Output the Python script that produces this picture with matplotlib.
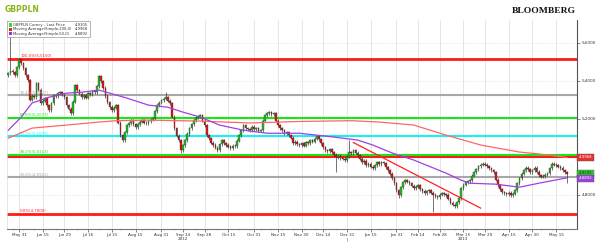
import numpy as np
import pandas as pd
import matplotlib
matplotlib.use("Agg")
import matplotlib.pyplot as plt
from matplotlib.patches import Rectangle
from matplotlib.transforms import blended_transform_factory

# Cierres diarios GBPPLN (aprox.)
closes = [
    5.440, 5.452, 5.446, 5.428, 5.470, 5.514, 5.492, 5.466, 5.430, 5.404,
    5.300, 5.322, 5.314, 5.388, 5.352, 5.283, 5.296, 5.309, 5.270, 5.246,
    5.282, 5.325, 5.318, 5.334, 5.340, 5.326, 5.314, 5.270, 5.252, 5.230,
    5.290, 5.377, 5.350, 5.332, 5.314, 5.325, 5.310, 5.335, 5.328, 5.344,
    5.340, 5.372, 5.425, 5.398, 5.362, 5.320, 5.288, 5.262, 5.246, 5.258,
    5.272, 5.180, 5.114, 5.088, 5.130, 5.167, 5.176, 5.193, 5.170, 5.156,
    5.172, 5.184, 5.193, 5.180, 5.177, 5.188, 5.196, 5.203, 5.240, 5.272,
    5.285, 5.298, 5.306, 5.314, 5.296, 5.283, 5.210, 5.151, 5.112, 5.088,
    5.035, 5.060, 5.088, 5.120, 5.151, 5.172, 5.193, 5.205, 5.212, 5.219,
    5.190, 5.167, 5.114, 5.098, 5.075, 5.062, 5.048, 5.035, 5.066, 5.088,
    5.070, 5.062, 5.052, 5.046, 5.058, 5.056, 5.085, 5.114, 5.140, 5.167,
    5.150, 5.145, 5.140, 5.158, 5.146, 5.151, 5.138, 5.140, 5.190, 5.219,
    5.228, 5.235, 5.224, 5.230, 5.190, 5.165, 5.151, 5.140, 5.124, 5.130,
    5.114, 5.100, 5.072, 5.080, 5.065, 5.062, 5.070, 5.058, 5.077, 5.072,
    5.088, 5.080, 5.096, 5.109, 5.092, 5.072, 5.050, 5.035, 5.030, 5.040,
    5.025, 5.012, 4.998, 5.006, 4.993, 4.990, 4.983, 5.000, 5.025, 5.018,
    5.035, 5.022, 5.009, 4.990, 4.972, 4.980, 4.956, 4.962, 4.948, 4.941,
    4.955, 4.972, 4.960, 4.972, 4.965, 4.945, 4.930, 4.912, 4.888, 4.860,
    4.825, 4.799, 4.840, 4.866, 4.877, 4.868, 4.861, 4.848, 4.835, 4.842,
    4.851, 4.830, 4.820, 4.809, 4.818, 4.825, 4.812, 4.799, 4.792, 4.788,
    4.800, 4.809, 4.803, 4.799, 4.780, 4.757, 4.748, 4.741, 4.760, 4.783,
    4.835, 4.852, 4.867, 4.872, 4.877, 4.900, 4.919, 4.935, 4.951, 4.958,
    4.962, 4.958, 4.951, 4.940, 4.930, 4.919, 4.880, 4.851, 4.830, 4.814,
    4.808, 4.804, 4.810, 4.799, 4.805, 4.825, 4.860, 4.888, 4.910, 4.930,
    4.941, 4.935, 4.919, 4.930, 4.941, 4.922, 4.904, 4.896, 4.899, 4.905,
    4.914, 4.940, 4.962, 4.958, 4.956, 4.948, 4.941, 4.930, 4.919, 4.9105,
]
primer_open = 5.430
# mechas largas (indice de dia -> valor)
maximos_extra = {1: 5.677, 73: 5.340, 158: 5.088}
minimos_extra = {80: 5.018, 152: 4.920, 181: 4.783, 197: 4.710, 207: 4.728, 259: 4.862}

# Medias moviles (fechas, valores)
ma200_fechas = ["2012-05-24", "2012-06-08", "2012-07-02", "2012-07-23", "2012-08-02",
                "2012-08-23", "2012-09-26", "2012-10-29", "2012-11-29", "2013-01-02",
                "2013-01-21", "2013-02-12", "2013-03-05", "2013-03-27", "2013-04-22",
                "2013-05-03", "2013-05-22"]
ma200_valores = [5.098, 5.151, 5.167, 5.183, 5.190, 5.193, 5.188, 5.178, 5.186, 5.190,
                 5.183, 5.167, 5.114, 5.062, 5.025, 5.015, 4.9968]
ma50_fechas = ["2012-05-24", "2012-06-01", "2012-06-08", "2012-06-20", "2012-07-02",
               "2012-07-11", "2012-07-23", "2012-07-30", "2012-08-09", "2012-08-23",
               "2012-09-05", "2012-09-14", "2012-09-26", "2012-10-09", "2012-10-24",
               "2012-11-08", "2012-11-29", "2012-12-21", "2013-01-07", "2013-01-16",
               "2013-01-29", "2013-02-12", "2013-03-05", "2013-03-14", "2013-03-20",
               "2013-04-05", "2013-04-22", "2013-05-03", "2013-05-22"]
ma50_valores = [5.140, 5.209, 5.283, 5.314, 5.335, 5.340, 5.351, 5.335, 5.309, 5.272,
                5.261, 5.235, 5.209, 5.167, 5.140, 5.124, 5.124, 5.104, 5.088, 5.062,
                5.020, 4.983, 4.914, 4.877, 4.861, 4.856, 4.840, 4.861, 4.8892]

# Linea de tendencia bajista
tendencia_fechas = ["2013-01-03", "2013-03-27"]
tendencia_valores = [5.075, 4.730]

# Niveles de Fibonacci
fib_etiquetas = ["100.0%(5,5150)", "76.4%(5,3227)", "61.8%(5,2037)", "50.0%(5,1075)",
                 "38.2%(5,0113)", "23.6%(4,8923)", "0.0%(4,7000)"]
fib_valores = [5.515, 5.3227, 5.2037, 5.1075, 5.0113, 4.8923, 4.700]
fib_colores = ["#ff1a1a", "#a8a8a8", "#19e619", "#19f0f0", "#19e619", "#a8a8a8", "#ff1a1a"]
soporte = 5.003

etiquetas_x = ["May 31", "Jun 15", "Jun 29", "Jul 16", "Jul 31", "Aug 15", "Aug 31",
               "Sep 14", "Sep 28", "Oct 15", "Oct 31", "Nov 15", "Nov 30", "Dec 14",
               "Dec 31", "Jan 15", "Jan 31", "Feb 14", "Feb 28", "Mar 15", "Mar 29",
               "Apr 15", "Apr 30", "May 15"]
fechas_x = ["2012-05-31", "2012-06-15", "2012-06-29", "2012-07-16", "2012-07-31",
            "2012-08-15", "2012-08-31", "2012-09-14", "2012-09-28", "2012-10-15",
            "2012-10-31", "2012-11-15", "2012-11-30", "2012-12-14", "2012-12-31",
            "2013-01-15", "2013-01-31", "2013-02-14", "2013-02-28", "2013-03-15",
            "2013-03-29", "2013-04-15", "2013-04-30", "2013-05-15"]

leyenda_textos = ["GBPPLN Curncy - Last Price", "Moving Average(Simple,200,0)",
                  "Moving Average(Simple,50,0)"]
leyenda_valores = ["4,9105", "4,9968", "4,8892"]

fechas = pd.bdate_range("2012-05-24", periods=len(closes))


def idx(lista):
    return fechas.searchsorted(pd.to_datetime(lista))


W, H = 600, 247
fig = plt.figure(figsize=(W / 100, H / 100), dpi=100)
fig.patch.set_facecolor("white")


def fx(px):
    return px / W


def fy(py):
    return 1 - py / H


ax = fig.add_axes([fx(7), fy(229), (577 - 7) / W, (229 - 20) / H])
ax.set_xlim(-0.6, 263.7)
ax.set_ylim(4.62, 5.72)

# velas
c = np.array(closes)
o = np.array([primer_open] + closes[:-1])
x = np.arange(len(c))
hi = np.maximum(o, c) + 0.008
lo = np.minimum(o, c) - 0.008
for k, v in maximos_extra.items():
    hi[k] = v
for k, v in minimos_extra.items():
    lo[k] = v
sube = c >= o
ax.vlines(x, lo, hi, color="#3a3a3a", lw=0.5, zorder=3)
altura = np.maximum(np.abs(c - o), 0.003)
ax.bar(x, altura, bottom=np.minimum(o, c), width=0.75,
       color=np.where(sube, "#1fc41f", "#e81414"), edgecolor="#2a2a2a", lw=0.25, zorder=4)

# niveles fibonacci
ax.axhline(soporte, color="#ff1a1a", lw=2.2, zorder=2)
for val, col, txt in zip(fib_valores, fib_colores, fib_etiquetas):
    lw = 2.0 if col == "#ff1a1a" else 1.5
    ax.axhline(val, color=col, lw=lw, zorder=2)
    ax.text(5.5, val + 0.004, txt, color=col, fontsize=2.8, va="bottom", ha="left", zorder=5)

# medias y tendencia
ax.plot(idx(ma200_fechas), ma200_valores, color="#ff6666", lw=0.9, zorder=5)
ax.plot(idx(ma50_fechas), ma50_valores, color="#a040e0", lw=0.9, zorder=5)
ax.plot(idx(tendencia_fechas), tendencia_valores, color="#ff2020", lw=0.9, zorder=5)

# ejes
pos_x = idx(fechas_x)
ax.set_xticks(pos_x)
ax.set_xticklabels(etiquetas_x, fontsize=3, color="#333333")
lunes = [i for i, d in enumerate(fechas) if d.weekday() == 0]
ax.set_xticks(lunes, minor=True)
ax.tick_params(axis="x", which="major", length=2, width=0.5, pad=1, color="#555555")
ax.tick_params(axis="x", which="minor", length=1, width=0.4, color="#777777")

ax.yaxis.tick_right()
yt = [4.8, 5.0, 5.2, 5.4, 5.6]
ax.set_yticks(yt)
# 5,0000 queda tapado por la etiqueta roja
ax.set_yticklabels(["" if v == 5.0 else f"{v:.4f}".replace(".", ",") for v in yt],
                   fontsize=3, color="#333333")
ax.tick_params(axis="y", length=2, width=0.5, pad=1.5, color="#555555")

ax.grid(axis="x", color="#e2e2e2", lw=0.6, zorder=0)
ax.grid(axis="y", color="#d8d8d8", lw=0.5, ls=":", zorder=0)
ax.set_axisbelow(True)
ax.spines["left"].set_color("#dddddd")
ax.spines["left"].set_linewidth(0.5)
ax.spines["top"].set_visible(False)
ax.spines["right"].set_color("#555555")
ax.spines["right"].set_linewidth(0.8)
ax.spines["bottom"].set_color("#777777")
ax.spines["bottom"].set_linewidth(0.8)

# anios
tr_x = blended_transform_factory(ax.transData, ax.transAxes)
y_anio = -(239 - 229) / (229 - 20)
for fecha, txt in [("2012-09-14", "2012"), ("2013-03-15", "2013"), ("2012-12-31", "|")]:
    ax.text(idx([fecha])[0], y_anio, txt, transform=tr_x,
            fontsize=3, ha="center", va="center", color="#333333")

# etiquetas a la derecha
tr = blended_transform_factory(ax.transAxes, ax.transData)
for val, txt, fc, tc in [(4.9968, "4,9968", "#e83030", "white"),
                         (4.9135, "4,9105", "#2ec82e", "#0a3a0a"),
                         (4.8862, "4,8892", "#a040e0", "white")]:
    ax.text(1.003, val, txt, transform=tr, fontsize=2.8, color=tc, ha="left", va="center",
            bbox=dict(boxstyle="square,pad=0.35", fc=fc, ec="#555555", lw=0.3), zorder=10, clip_on=False)

# leyenda
fig.patches.append(Rectangle((fx(7), fy(37)), 83 / W, 16 / H, transform=fig.transFigure,
                             fc="white", ec="#9a9a9a", lw=0.5, zorder=20))
for k, (txt, val, col) in enumerate(zip(leyenda_textos, leyenda_valores, ["#33dd33", "#ee2222", "#9933dd"])):
    yy = 25 + k * 4.3
    fig.patches.append(Rectangle((fx(8.5), fy(yy + 1.6)), 3.2 / W, 3.2 / H, transform=fig.transFigure,
                                 fc=col, ec="none", zorder=21))
    fig.text(fx(13), fy(yy), txt, fontsize=2.7, va="center", ha="left", color="#333333", zorder=22)
    fig.text(fx(88), fy(yy), val, fontsize=2.7, va="center", ha="right", color="#333333", zorder=22)

fig.text(fx(5), fy(10), "GBPPLN", color="#8ab71b", fontsize=5.5, fontweight="bold", va="center", ha="left")
fig.text(fx(576), fy(11), "BLOOMBERG", color="#111111", fontsize=6.8, fontweight="bold",
         family="Liberation Serif", va="center", ha="right")

fig.savefig("out.png", dpi=100, facecolor="white")
